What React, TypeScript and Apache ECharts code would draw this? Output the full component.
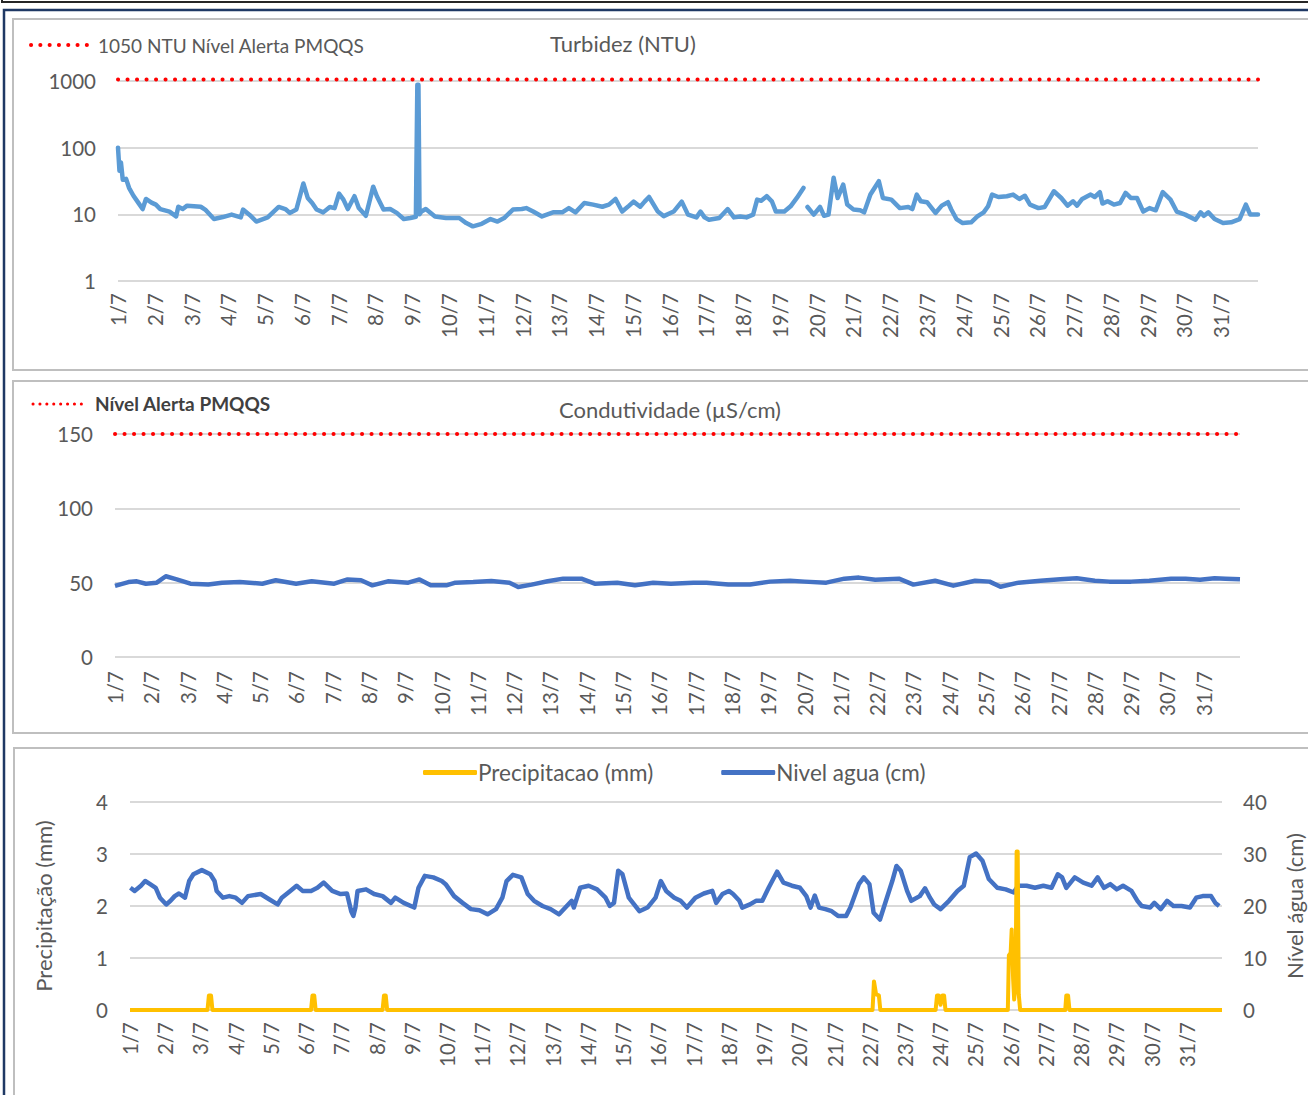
import React, { useEffect, useRef } from "react";
import * as echarts from "echarts";

const dayLabels = ["1/7","2/7","3/7","4/7","5/7","6/7","7/7","8/7","9/7","10/7","11/7","12/7","13/7","14/7","15/7","16/7","17/7","18/7","19/7","20/7","21/7","22/7","23/7","24/7","25/7","26/7","27/7","28/7","29/7","30/7","31/7"];

const alertaTurbidez = 1050;
const alertaCondutividade = 150;

// [day offset from 1/7 00:00, NTU]
const turbidez: [number, number | null][] = [
  [0.00,100],[0.04,45],[0.08,60],[0.13,33],[0.22,34],[0.30,25],[0.42,19],[0.55,15],[0.67,12],[0.76,17],[0.91,15],
  [1.03,14],[1.15,12],[1.40,11],[1.58,9.3],[1.64,13],[1.76,12],[1.88,13.5],[2.25,13],[2.37,11.8],[2.61,8.5],[2.85,9.1],
  [3.09,9.9],[3.34,9],[3.40,11.8],[3.58,9.8],[3.76,7.8],[4.07,9],[4.37,12.9],[4.55,12],[4.67,10.5],[4.85,11.8],
  [5.04,29],[5.16,17.6],[5.28,14.8],[5.40,11.8],[5.58,10.7],[5.76,12.9],[5.89,12.4],[6.01,20.5],[6.13,16.6],[6.25,12],
  [6.43,18.7],[6.55,12.4],[6.74,9.5],[6.94,26],[7.04,18.7],[7.22,11.8],[7.40,12],[7.58,10.5],[7.77,8.5],[7.95,8.8],
  [8.10,9.2],[8.14,880],[8.17,880],[8.20,10],[8.25,11],[8.37,12],[8.62,9.3],[8.92,8.8],[9.28,8.8],[9.47,7.4],[9.65,6.6],
  [9.89,7.2],[10.13,8.5],[10.32,7.8],[10.50,8.8],[10.74,11.8],[10.98,12],[11.10,12.4],[11.29,11],[11.53,9.3],[11.83,10.7],
  [12.08,10.7],[12.26,12.4],[12.44,10.7],[12.68,14.8],[12.92,14],[13.17,13],[13.35,14],[13.53,17],[13.71,11],[13.90,13.5],
  [14.02,15.5],[14.20,13],[14.32,15.5],[14.44,18.2],[14.68,11],[14.84,9.4],[15.11,11],[15.33,15.5],[15.50,9.9],[15.73,9],
  [15.84,11],[15.95,9],[16.07,8.3],[16.35,8.8],[16.58,12],[16.75,9],[16.92,9.3],[17.09,9],[17.27,9.9],[17.38,16.6],
  [17.49,16],[17.64,18.7],[17.78,15.7],[17.89,11],[18.12,11],[18.29,13.2],[18.46,17.6],[18.64,24.9],[18.69,null],
  [18.75,12.9],[18.92,9.9],[19.09,12.9],[19.20,9.5],[19.32,9.9],[19.46,35.4],[19.57,17.6],[19.72,28],[19.83,14],
  [20.00,11.8],[20.18,11.5],[20.29,10.7],[20.46,19.8],[20.69,31.4],[20.80,17.6],[21.03,16.6],[21.26,12.4],[21.49,12.9],
  [21.60,12],[21.72,19.8],[21.83,15.7],[22.00,15.2],[22.23,10.5],[22.40,13.5],[22.57,15.2],[22.66,11.8],[22.80,8.5],
  [22.97,7.4],[23.20,7.6],[23.37,9.3],[23.54,10.7],[23.66,13.2],[23.77,19.8],[23.94,18.2],[24.17,18.7],[24.34,19.8],
  [24.51,17],[24.66,19],[24.80,14],[25.03,12.4],[25.20,12.9],[25.45,22.2],[25.65,17.6],[25.82,13.5],[25.97,15.7],
  [26.08,13.5],[26.22,17],[26.45,19.8],[26.56,18.2],[26.70,21.5],[26.77,14.5],[26.91,15.7],[27.08,14],[27.25,14.8],
  [27.40,21],[27.54,17.6],[27.71,17.6],[27.88,11],[28.05,12.4],[28.22,11.5],[28.41,21.5],[28.62,16.6],[28.79,11],
  [29.02,9.9],[29.30,8.3],[29.44,10.7],[29.53,9.5],[29.65,10.7],[29.82,8.5],[30.05,7.4],[30.27,7.6],[30.50,8.5],
  [30.67,14],[30.79,9.9],[31.00,9.9]
];

// [day, µS/cm]
const condutividade: [number, number][] = [
  [0.00,47.8],[0.37,50.4],[0.60,50.9],[0.85,49.3],[1.15,50],[1.40,54.3],[1.70,52.2],[2.08,49.3],[2.57,48.7],[2.95,50],
  [3.44,50.4],[4.06,49.3],[4.43,51.6],[4.99,49.3],[5.42,50.9],[6.04,49.3],[6.41,52.2],[6.78,51.6],[7.09,48.2],[7.52,50.9],
  [8.08,50],[8.39,52.2],[8.70,48.2],[9.13,48.2],[9.38,50],[9.87,50.4],[10.37,51.1],[10.87,50],[11.11,47.1],[11.48,48.7],
  [11.92,50.9],[12.35,52.7],[12.85,52.7],[13.22,49.3],[13.84,50],[14.33,48.2],[14.83,50],[15.32,49.3],[15.94,50],
  [16.30,50],[16.90,48.7],[17.50,48.7],[18.05,50.7],[18.60,51.3],[19.00,50.7],[19.60,50],[20.10,52.7],[20.50,53.4],
  [20.95,52],[21.60,52.7],[22.00,48.7],[22.60,51.3],[23.10,48],[23.70,51.3],[24.10,50.7],[24.40,47.3],[24.90,50],
  [25.50,51.3],[26.05,52.3],[26.50,53],[27.00,51.3],[27.40,50.7],[28.00,50.7],[28.50,51.3],[29.10,52.7],[29.50,52.7],
  [29.90,52],[30.30,53],[30.60,52.7],[31.00,52.3]
];

// [day, mm]
const precipitacao: [number, number][] = [
  [0,0],[2.20,0],[2.24,0.28],[2.30,0.28],[2.34,0],
  [5.14,0],[5.18,0.28],[5.23,0.28],[5.27,0],
  [7.17,0],[7.21,0.28],[7.26,0.28],[7.30,0],
  [21.08,0],[21.12,0.55],[21.18,0.3],[21.26,0.28],[21.30,0],
  [22.87,0],[22.91,0.28],[22.96,0.28],[23.01,0.1],[23.06,0.28],[23.11,0.28],[23.15,0],
  [24.92,0],[24.95,1.05],[25.00,1.1],[25.03,1.55],[25.07,0.6],[25.10,0.2],[25.14,0.5],[25.17,3.05],[25.20,3.05],[25.23,0.3],[25.27,0],
  [26.55,0],[26.58,0.28],[26.63,0.28],[26.67,0],[31,0]
];

// [day, cm]
const nivelAgua: [number, number][] = [
  [0.01,23.5],[0.13,22.9],[0.31,23.9],[0.43,24.8],[0.55,24.3],[0.73,23.5],[0.85,21.6],[1.03,20.3],[1.15,21.0],[1.27,21.9],
  [1.39,22.4],[1.56,21.6],[1.68,24.8],[1.80,26.1],[2.04,26.9],[2.28,26.1],[2.40,24.8],[2.46,22.9],[2.64,21.6],[2.82,21.9],
  [3.00,21.6],[3.18,20.6],[3.35,21.9],[3.71,22.3],[3.95,21.3],[4.19,20.3],[4.31,21.6],[4.55,22.9],[4.73,23.9],[4.90,22.9],
  [5.14,22.9],[5.32,23.5],[5.50,24.5],[5.74,22.9],[5.98,22.3],[6.16,22.4],[6.28,19.0],[6.34,18.1],[6.40,19.7],[6.46,22.9],
  [6.70,23.2],[6.93,22.3],[7.17,21.9],[7.41,20.6],[7.53,21.6],[7.77,20.6],[8.07,19.7],[8.19,23.5],[8.37,25.8],[8.61,25.5],
  [8.85,24.8],[8.96,24.2],[9.20,21.9],[9.44,20.6],[9.68,19.4],[9.92,19.2],[10.15,18.4],[10.39,19.4],[10.57,21.6],[10.69,24.8],
  [10.87,26.0],[11.11,25.5],[11.29,22.3],[11.47,21.0],[11.71,20.0],[11.94,19.4],[12.18,18.4],[12.36,19.7],[12.54,21.0],
  [12.60,19.7],[12.78,23.5],[13.02,23.9],[13.26,23.2],[13.50,21.6],[13.62,20.0],[13.74,20.6],[13.86,26.8],[13.98,26.1],
  [14.16,21.6],[14.46,19.0],[14.69,19.7],[14.92,21.6],[15.07,24.8],[15.22,22.9],[15.45,21.6],[15.63,21.0],[15.81,19.7],
  [16.05,21.6],[16.29,22.4],[16.53,22.9],[16.64,20.6],[16.82,22.3],[17.00,22.9],[17.12,22.3],[17.30,21.0],[17.38,19.7],
  [17.60,20.3],[17.77,21.0],[17.95,21.0],[18.13,23.5],[18.37,26.6],[18.55,24.5],[18.79,23.9],[19.02,23.5],[19.20,21.9],
  [19.32,19.7],[19.44,22.0],[19.56,19.7],[19.74,19.4],[19.92,19.0],[20.10,18.1],[20.33,18.1],[20.45,19.7],[20.69,24.2],
  [20.83,25.5],[20.99,24.2],[21.11,18.7],[21.29,17.4],[21.46,21.0],[21.64,24.8],[21.76,27.7],[21.88,26.8],[22.06,22.9],
  [22.18,21.0],[22.42,21.9],[22.57,23.4],[22.71,21.6],[22.83,20.3],[23.01,19.4],[23.25,21.0],[23.49,22.9],[23.67,23.9],
  [23.84,29.4],[24.02,30.1],[24.20,28.7],[24.38,25.2],[24.62,23.5],[24.86,23.2],[25.09,22.6],[25.21,23.9],[25.45,23.9],
  [25.69,23.5],[25.93,23.9],[26.16,23.5],[26.34,26.1],[26.46,25.5],[26.58,23.5],[26.82,25.5],[27.06,24.5],[27.30,23.9],
  [27.47,25.5],[27.65,23.5],[27.83,24.2],[28.01,23.2],[28.19,23.9],[28.43,22.9],[28.60,21.0],[28.72,20.0],[28.96,19.7],
  [29.08,20.6],[29.26,19.4],[29.44,21.0],[29.62,20.0],[29.85,20.0],[30.09,19.7],[30.27,21.6],[30.45,21.9],[30.69,21.9],
  [30.81,20.6],[30.92,20.0]
];

const FONT = "Lato, 'Noto Sans', sans-serif";
const TXT = "#595959";
const GRID = "#D9D9D9";

function xAxis(gridIndex: number, margin: number) {
  return {
    type: "value", gridIndex, min: 0, max: 31, interval: 1,
    axisLine: { show: false }, axisTick: { show: false }, splitLine: { show: false },
    axisLabel: {
      rotate: 90, margin, fontSize: 20.5, color: TXT, fontFamily: FONT,
      formatter: (v: number) => dayLabels[v] ?? "",
    },
  };
}

export default function App() {
  const ref = useRef<HTMLDivElement>(null);
  useEffect(() => {
    if (!ref.current) return;
    const chart = echarts.init(ref.current, undefined, { renderer: "svg" });
    const dotted = (color: string) => ({ color, width: 4, type: [0.1, 9.4], cap: "round" });
    const yLabel = { fontSize: 20.5, color: TXT, fontFamily: FONT, margin: 22, formatter: (v: number) => String(v) };
    const split = { show: true, lineStyle: { color: GRID, width: 2 } };
    const gridBase = { containLabel: false, outerBoundsMode: "none" };
    chart.setOption({
      animation: false,
      backgroundColor: "#fff",
      textStyle: { fontFamily: FONT },
      title: [
        { text: "Turbidez (NTU)", left: 623, top: 32, textAlign: "center", padding: 0,
          textStyle: { fontSize: 22, fontWeight: "normal", color: TXT, fontFamily: FONT } },
        { text: "Condutividade (µS/cm)", left: 670, top: 398, textAlign: "center", padding: 0,
          textStyle: { fontSize: 22, fontWeight: "normal", color: TXT, fontFamily: FONT } },
      ],
      legend: [{
        data: ["Precipitacao (mm)", "Nivel agua (cm)"],
        left: 418, top: 756, itemWidth: 54, itemHeight: 5, itemGap: 68, icon: "roundRect",
        textStyle: { fontSize: 22.5, color: TXT, fontFamily: FONT, padding: [0, 0, 0, -4] },
      }],
      grid: [
        { ...gridBase, left: 118, right: 50, top: 81, height: 200 },
        { ...gridBase, left: 115, right: 68, top: 434, height: 223 },
        { ...gridBase, left: 130, right: 86, top: 802, height: 208 },
      ],
      xAxis: [xAxis(0, 12), xAxis(1, 14), xAxis(2, 12)],
      yAxis: [
        { type: "log", logBase: 10, gridIndex: 0, min: 1, max: 1000,
          axisLine: { show: false }, axisTick: { show: false }, axisLabel: yLabel, splitLine: split },
        { type: "value", gridIndex: 1, min: 0, max: 150, interval: 50,
          axisLine: { show: false }, axisTick: { show: false }, axisLabel: yLabel, splitLine: split },
        { type: "value", gridIndex: 2, min: 0, max: 4, interval: 1, position: "left",
          name: "Precipitação (mm)", nameLocation: "middle", nameRotate: 90, nameGap: 76,
          nameTextStyle: { fontSize: 22, color: TXT, fontFamily: FONT },
          axisLine: { show: false }, axisTick: { show: false }, axisLabel: yLabel, splitLine: split },
        { type: "value", gridIndex: 2, min: 0, max: 40, interval: 10, position: "right",
          name: "Nível água (cm)", nameLocation: "middle", nameRotate: 90, nameGap: 61,
          nameTextStyle: { fontSize: 22, color: TXT, fontFamily: FONT },
          axisLine: { show: false }, axisTick: { show: false },
          axisLabel: { ...yLabel, margin: 21 }, splitLine: { show: false } },
      ],
      series: [
        { name: "Turbidez (NTU)", type: "line", xAxisIndex: 0, yAxisIndex: 0, data: turbidez,
          showSymbol: false, symbol: "none", connectNulls: false,
          lineStyle: { color: "#5B9BD5", width: 4.5, join: "round", cap: "round" }, itemStyle: { color: "#5B9BD5" } },
        { name: "1050 NTU Nível Alerta PMQQS", type: "line", xAxisIndex: 0, yAxisIndex: 0, clip: false,
          data: [[0, alertaTurbidez], [31, alertaTurbidez]], symbol: "none", lineStyle: dotted("#FF0000") },
        { name: "Condutividade (µS/cm)", type: "line", xAxisIndex: 1, yAxisIndex: 1, data: condutividade,
          symbol: "none", lineStyle: { color: "#4472C4", width: 4.5, join: "round" }, itemStyle: { color: "#4472C4" } },
        { name: "Nível Alerta PMQQS", type: "line", xAxisIndex: 1, yAxisIndex: 1, clip: false,
          data: [[0, alertaCondutividade], [31, alertaCondutividade]], symbol: "none", lineStyle: dotted("#FF0000") },
        { name: "Nivel agua (cm)", type: "line", xAxisIndex: 2, yAxisIndex: 3, data: nivelAgua,
          symbol: "none", lineStyle: { color: "#4472C4", width: 4.5, join: "round" }, itemStyle: { color: "#4472C4" } },
        { name: "Precipitacao (mm)", type: "line", xAxisIndex: 2, yAxisIndex: 2, data: precipitacao,
          symbol: "none", lineStyle: { color: "#FFC000", width: 4, join: "round" }, itemStyle: { color: "#FFC000" } },
      ],
      graphic: [
        { type: "rect", silent: true, shape: { x: 2, y: -10, width: 1320, height: 12 },
          style: { fill: "none", stroke: "#262626", lineWidth: 2 } },
        { type: "rect", silent: true, shape: { x: 4, y: 10, width: 1320, height: 1100 },
          style: { fill: "none", stroke: "#1F3864", lineWidth: 2.5 } },
        { type: "rect", silent: true, shape: { x: 13, y: 19, width: 1320, height: 351 },
          style: { fill: "none", stroke: "#BFBFBF", lineWidth: 2 } },
        { type: "rect", silent: true, shape: { x: 13, y: 381, width: 1320, height: 352 },
          style: { fill: "none", stroke: "#BFBFBF", lineWidth: 2 } },
        { type: "rect", silent: true, shape: { x: 14, y: 748, width: 1320, height: 400 },
          style: { fill: "none", stroke: "#BFBFBF", lineWidth: 2 } },
        { type: "line", silent: true, shape: { x1: 31, y1: 45, x2: 88, y2: 45 },
          style: { stroke: "#FF0000", lineWidth: 4, lineDash: [0.1, 9.2], lineCap: "round" } },
        { type: "text", silent: true, x: 98, y: 45,
          style: { text: "1050 NTU Nível Alerta PMQQS", fill: TXT, font: `19px ${FONT}`, verticalAlign: "middle" } },
        { type: "line", silent: true, shape: { x1: 33, y1: 404, x2: 88, y2: 404 },
          style: { stroke: "#FF0000", lineWidth: 3, lineDash: [0.1, 6.8], lineCap: "round" } },
        { type: "text", silent: true, x: 95, y: 403,
          style: { text: "Nível Alerta PMQQS", fill: "#404040", font: `bold 19px ${FONT}`, verticalAlign: "middle" } },
      ],
    });
    return () => chart.dispose();
  }, []);
  return (
    <div ref={ref} style={{ position: "absolute", left: 0, top: 0, width: 1308, height: 1095, background: "#fff" }} />
  );
}
